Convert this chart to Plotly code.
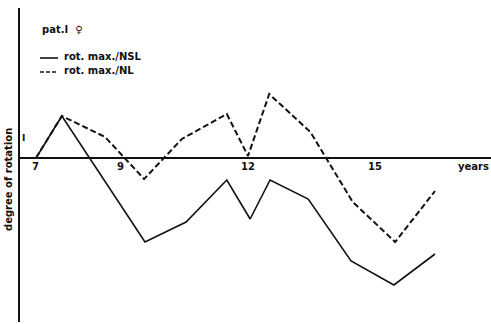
import plotly.graph_objects as go

# data (age in years, degree of rotation)
years_nsl = [7.0, 7.61, 9.57, 10.54, 11.5, 12.05, 12.52, 13.42, 14.43, 15.44, 16.41]
rot_nsl = [0.0, 2.1, -4.2, -3.2, -1.1, -3.05, -1.1, -2.05, -5.15, -6.35, -4.8]

years_nl = [7.0, 7.61, 8.63, 9.55, 10.44, 11.5, 12.0, 12.5, 13.47, 14.47, 15.47, 16.41]
rot_nl = [0.0, 2.1, 1.05, -1.05, 0.95, 2.2, 0.1, 3.2, 1.3, -2.2, -4.2, -1.65]

x_ticks = [7, 9, 12, 15]
y_ticks = [1]

FONT = "DejaVu Sans"
INK = "#111111"

fig = go.Figure()
fig.add_trace(go.Scatter(x=years_nsl, y=rot_nsl, mode="lines",
                         line=dict(color=INK, width=1.6), name="rot. max./NSL"))
fig.add_trace(go.Scatter(x=years_nl, y=rot_nl, mode="lines",
                         line=dict(color=INK, width=2, dash="6px,3px"), name="rot. max./NL"))

fig.update_layout(
    width=491, height=324,
    margin=dict(l=20, r=0, t=8, b=2, autoexpand=False),
    paper_bgcolor="white", plot_bgcolor="white",
    showlegend=False,
    font=dict(family=FONT, size=10, color=INK),
    xaxis=dict(range=[6.623, 17.73], showline=False, showticklabels=False,
               ticks="", showgrid=False, zeroline=False, automargin=False),
    yaxis=dict(range=[-8.2, 7.5], showline=True, linecolor=INK, linewidth=1.5,
               showticklabels=False, ticks="", showgrid=False,
               zeroline=True, zerolinecolor=INK, zerolinewidth=1.5, automargin=False),
)

# tick labels on the zero line
for v in x_ticks:
    fig.add_annotation(text="<b>%d</b>" % v, x=v, y=0, xref="x", yref="y",
                       xanchor="center", yanchor="top", yshift=-1, showarrow=False,
                       font=dict(family=FONT, size=10, color=INK))
for v in y_ticks:
    fig.add_annotation(text="<b>I</b>", x=0, y=v, xref="paper", yref="y",
                       xanchor="left", yanchor="middle", xshift=0, showarrow=False,
                       font=dict(family=FONT, size=9, color=INK))

# axis titles
fig.add_annotation(text="<b>years</b>", xref="paper", yref="y", x=1.0, y=0,
                   xanchor="right", yanchor="top", yshift=-1, showarrow=False,
                   font=dict(family=FONT, size=10, color=INK))
fig.add_annotation(text="<b>degree of rotation</b>", xref="paper", yref="paper",
                   x=-12 / 471, y=(322 - 180) / 314, textangle=-90,
                   xanchor="center", yanchor="middle", showarrow=False,
                   font=dict(family=FONT, size=10, color=INK))

# legend block
def px_x(p):
    return (p - 20) / 471

def px_y(p):
    return (322 - p) / 314

fig.add_annotation(text="<b>pat.I  ♀</b>", xref="paper", yref="paper",
                   x=px_x(40), y=px_y(30), xanchor="left", yanchor="middle",
                   showarrow=False, font=dict(family=FONT, size=10, color=INK))
fig.add_shape(type="line", xref="paper", yref="paper", x0=px_x(40), x1=px_x(58),
              y0=px_y(58), y1=px_y(58), line=dict(color=INK, width=1.6))
fig.add_shape(type="line", xref="paper", yref="paper", x0=px_x(40), x1=px_x(58),
              y0=px_y(72), y1=px_y(72), line=dict(color=INK, width=1.6, dash="4px,2px"))
fig.add_annotation(text="<b>rot. max./NSL</b>", xref="paper", yref="paper",
                   x=px_x(62), y=px_y(57), xanchor="left", yanchor="middle",
                   showarrow=False, font=dict(family=FONT, size=10, color=INK))
fig.add_annotation(text="<b>rot. max./NL</b>", xref="paper", yref="paper",
                   x=px_x(62), y=px_y(71), xanchor="left", yanchor="middle",
                   showarrow=False, font=dict(family=FONT, size=10, color=INK))

fig.write_html("out.html", config={"displayModeBar": False},
               post_script="document.body.style.margin='0';")
